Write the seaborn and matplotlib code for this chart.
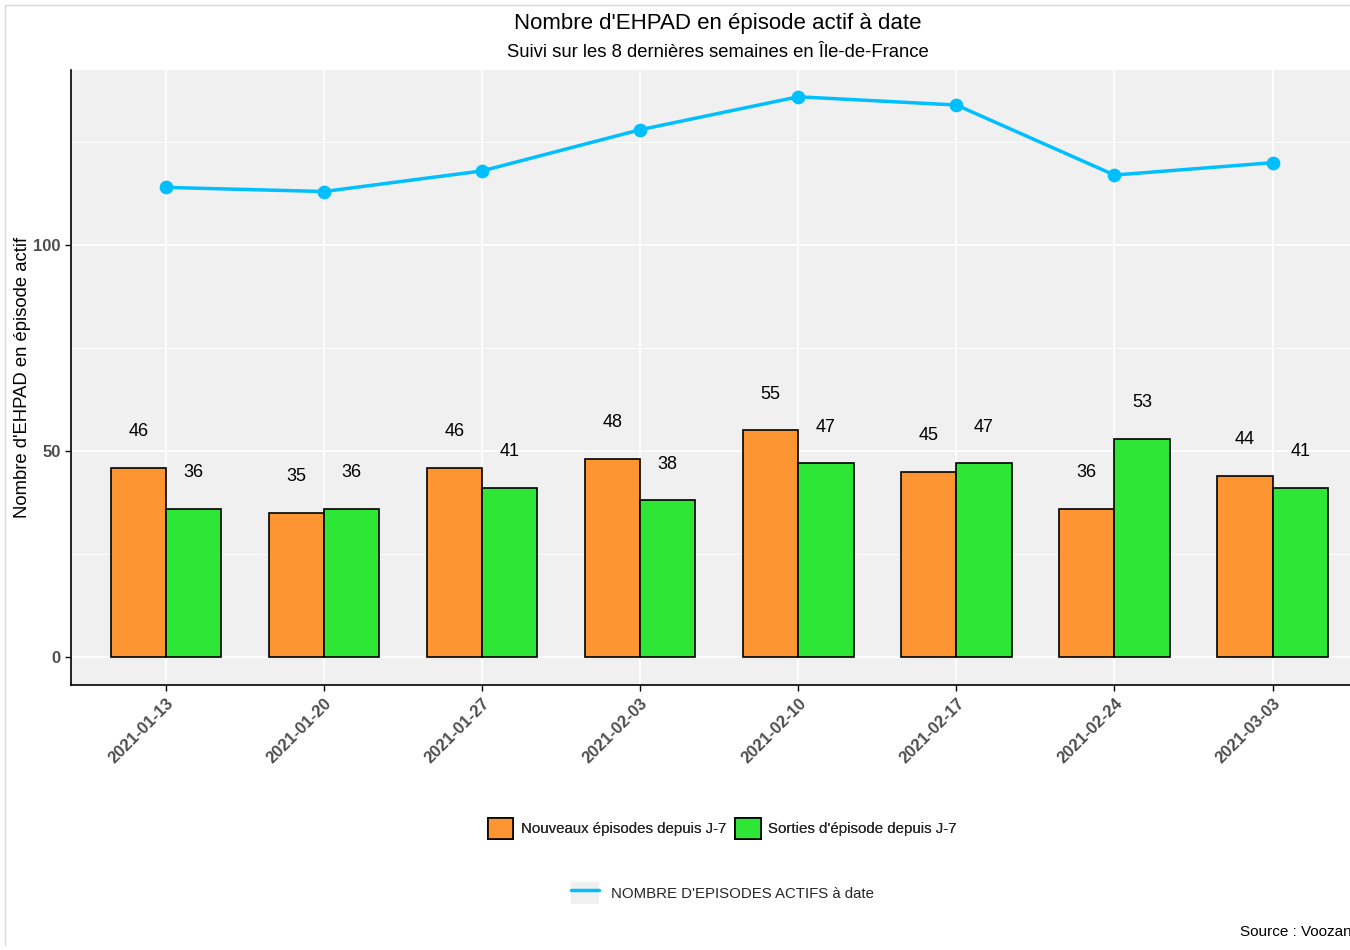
import numpy as np
import pandas as pd
import seaborn as sns
import matplotlib
matplotlib.use("Agg")
import matplotlib.pyplot as plt
from matplotlib.patches import Patch
from matplotlib.lines import Line2D
from matplotlib.legend_handler import HandlerTuple
from matplotlib.ticker import MultipleLocator

dates = ["2021-01-13", "2021-01-20", "2021-01-27", "2021-02-03",
         "2021-02-10", "2021-02-17", "2021-02-24", "2021-03-03"]
nouveaux = [46, 35, 46, 48, 55, 45, 36, 44]
sorties = [36, 36, 41, 38, 47, 47, 53, 41]
actifs = [114, 113, 118, 128, 136, 134, 117, 120]

lab_new = "Nouveaux épisodes depuis J-7"
lab_out = "Sorties d'épisode depuis J-7"
lab_line = "NOMBRE D'EPISODES ACTIFS à date"

c_new = "#FE9533"
c_out = "#2DE636"
c_line = "#00BFFF"

sns.set_theme(style="white")
plt.rcParams['font.family'] = ['Liberation Sans', 'DejaVu Sans']

df = pd.DataFrame({
    "date": dates * 2,
    "valeur": nouveaux + sorties,
    "type": [lab_new] * len(dates) + [lab_out] * len(dates),
})

fig = plt.figure(figsize=(13.5, 9.5), dpi=100)
ax = fig.add_axes([71 / 1350, 1 - 685 / 950, 1 - 71 / 1350, (685 - 70) / 950])
ax.set_facecolor("#F0F0F0")

sns.barplot(data=df, x="date", y="valeur", hue="type", order=dates,
            hue_order=[lab_new, lab_out], palette=[c_new, c_out],
            width=0.7, edgecolor="black", linewidth=1.2, saturation=1,
            legend=False, ax=ax, zorder=3)

for cont in ax.containers:
    ax.bar_label(cont, padding=20, fontsize=13, color="black")

sns.pointplot(x=dates, y=actifs, order=dates, color=c_line, markers="o",
              linestyles="-", markersize=8, linewidth=2.5, ax=ax, zorder=4)

ax.set_xlim(-0.6, 7.49)
ax.set_ylim(-6.8, 142.5)
ax.yaxis.set_major_locator(MultipleLocator(50))
ax.yaxis.set_minor_locator(MultipleLocator(25))
ax.grid(True, which="major", color="white", linewidth=1.3, zorder=0)
ax.grid(True, which="minor", axis="y", color="white", linewidth=0.6, zorder=0)
ax.set_axisbelow(True)

for s in ["top", "right"]:
    ax.spines[s].set_visible(False)
for s in ["left", "bottom"]:
    ax.spines[s].set_color("black")
    ax.spines[s].set_linewidth(1.2)

ax.tick_params(axis="both", which="major", length=4, color="black",
               width=1, direction="out", labelsize=12, labelcolor="#4D4D4D")
ax.tick_params(axis="y", which="minor", length=0)
ax.tick_params(axis="both", bottom=True, left=True)
for lbl in ax.get_xticklabels():
    lbl.set_rotation(45)
    lbl.set_ha("right")
    lbl.set_rotation_mode("anchor")
    lbl.set_fontweight("bold")
for lbl in ax.get_yticklabels():
    lbl.set_fontweight("bold")

ax.set_xlabel("")
ax.set_ylabel("Nombre d'EHPAD en épisode actif", fontsize=13.3, color="black")
ax.yaxis.set_label_coords(-0.031, 0.5)

fig.text(0.532, 0.975, "Nombre d'EHPAD en épisode actif à date",
         ha="center", va="center", fontsize=16, color="black")
fig.text(0.532, 0.945, "Suivi sur les 8 dernières semaines en Île-de-France",
         ha="center", va="center", fontsize=13.3, color="black")

h1 = [Patch(facecolor=c_new, edgecolor="black", linewidth=1.2, label=lab_new),
      Patch(facecolor=c_out, edgecolor="black", linewidth=1.2, label=lab_out)]
leg1 = fig.legend(handles=h1, loc="center", bbox_to_anchor=(0.535, 0.128),
                  ncol=2, frameon=False, fontsize=10.8, handlelength=1.7,
                  handleheight=1.7, handletextpad=0.5, columnspacing=0.6)
fig.add_artist(leg1)

bg = Patch(facecolor="#F0F0F0", edgecolor="none")
ln = Line2D([0], [0], color=c_line, linewidth=2.5)
leg2 = fig.legend(handles=[(bg, ln)], labels=[lab_line], loc="center",
                  bbox_to_anchor=(0.535, 0.06),
                  handler_map={tuple: HandlerTuple(ndivide=1, pad=0)},
                  frameon=False, fontsize=10.8, handlelength=1.9,
                  handleheight=1.9, handletextpad=0.8)

fig.text(1240 / 1350, 1 - 932 / 950, "Source : Voozanoo", ha="left",
         va="center", fontsize=11, color="black")

fig.add_artist(Line2D([5 / 1350, 5 / 1350], [1 - 945 / 950, 1 - 5 / 950],
                      color="#D9D9D9", linewidth=1, transform=fig.transFigure))
fig.add_artist(Line2D([5 / 1350, 1], [1 - 5 / 950, 1 - 5 / 950],
                      color="#D9D9D9", linewidth=1, transform=fig.transFigure))

fig.savefig("out.png", dpi=100)
